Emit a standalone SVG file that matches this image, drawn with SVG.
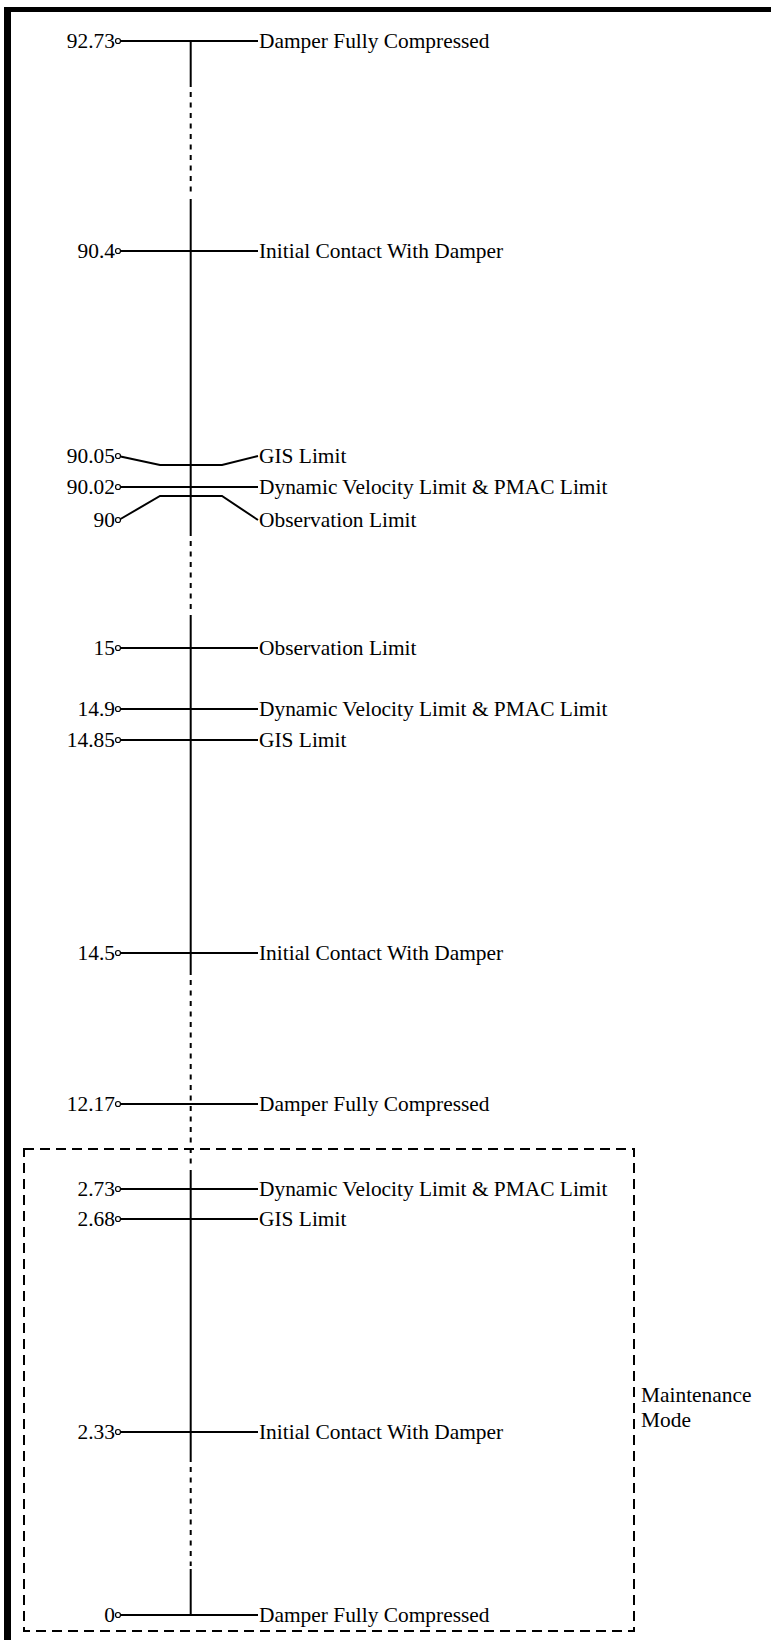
<svg xmlns="http://www.w3.org/2000/svg" width="771" height="1640" viewBox="0 0 771 1640">
<style>
.ln{stroke:#000;stroke-width:2;fill:none}
.dot{stroke:#000;stroke-width:2;fill:none;stroke-dasharray:5 5.5}
.pt{fill:#fff;stroke:#000;stroke-width:1.2}
.t{font-family:"Liberation Serif","Times New Roman",serif;font-size:21.4px;fill:#000}
.n{text-anchor:end}
.box{fill:none;stroke:#000;stroke-width:2;stroke-dasharray:10 6}
</style>
<rect x="0" y="0" width="771" height="1640" fill="#fff"/>
<g id="frame">
<rect x="4" y="7" width="7" height="1633" fill="#000"/>
<rect x="4" y="7" width="767" height="5" fill="#000"/>
</g>
<g id="connectors">
<line class="ln" x1="190.7" y1="41" x2="190.7" y2="87"/>
<line class="dot" x1="190.7" y1="92" x2="190.7" y2="196"/>
<line class="ln" x1="190.7" y1="199" x2="190.7" y2="536"/>
<line class="dot" x1="190.7" y1="541" x2="190.7" y2="613"/>
<line class="ln" x1="190.7" y1="615" x2="190.7" y2="975"/>
<line class="dot" x1="190.7" y1="980" x2="190.7" y2="1166"/>
<line class="ln" x1="190.7" y1="1170" x2="190.7" y2="1462"/>
<line class="dot" x1="190.7" y1="1467" x2="190.7" y2="1566"/>
<line class="ln" x1="190.7" y1="1569" x2="190.7" y2="1615"/>
</g>
<g id="n9273">
<line class="ln" x1="120.5" y1="41" x2="258" y2="41"/><circle class="pt" cx="118" cy="41" r="2.5"/>
<text class="t n" x="115" y="48">92.73</text><text class="t" x="259" y="48">Damper Fully Compressed</text>
</g>
<g id="n904">
<line class="ln" x1="120.5" y1="251" x2="258" y2="251"/><circle class="pt" cx="118" cy="251" r="2.5"/>
<text class="t n" x="115" y="258">90.4</text><text class="t" x="259" y="258">Initial Contact With Damper</text>
</g>
<g id="n9005">
<polyline class="ln" points="120.5,456.5 160,465 222,465 258,456"/><circle class="pt" cx="118" cy="456" r="2.5"/>
<text class="t n" x="115" y="463">90.05</text><text class="t" x="259" y="463">GIS Limit</text>
</g>
<g id="n9002">
<line class="ln" x1="120.5" y1="487" x2="258" y2="487"/><circle class="pt" cx="118" cy="487" r="2.5"/>
<text class="t n" x="115" y="494">90.02</text><text class="t" x="259" y="494">Dynamic Velocity Limit &amp; PMAC Limit</text>
</g>
<g id="n90">
<polyline class="ln" points="120.5,519 160,496 222,496 258,520"/><circle class="pt" cx="118" cy="520" r="2.5"/>
<text class="t n" x="115" y="527">90</text><text class="t" x="259" y="527">Observation Limit</text>
</g>
<g id="n15">
<line class="ln" x1="120.5" y1="648" x2="258" y2="648"/><circle class="pt" cx="118" cy="648" r="2.5"/>
<text class="t n" x="115" y="655">15</text><text class="t" x="259" y="655">Observation Limit</text>
</g>
<g id="n149">
<line class="ln" x1="120.5" y1="709" x2="258" y2="709"/><circle class="pt" cx="118" cy="709" r="2.5"/>
<text class="t n" x="115" y="716">14.9</text><text class="t" x="259" y="716">Dynamic Velocity Limit &amp; PMAC Limit</text>
</g>
<g id="n1485">
<line class="ln" x1="120.5" y1="740" x2="258" y2="740"/><circle class="pt" cx="118" cy="740" r="2.5"/>
<text class="t n" x="115" y="747">14.85</text><text class="t" x="259" y="747">GIS Limit</text>
</g>
<g id="n145">
<line class="ln" x1="120.5" y1="953" x2="258" y2="953"/><circle class="pt" cx="118" cy="953" r="2.5"/>
<text class="t n" x="115" y="960">14.5</text><text class="t" x="259" y="960">Initial Contact With Damper</text>
</g>
<g id="n1217">
<line class="ln" x1="120.5" y1="1104" x2="258" y2="1104"/><circle class="pt" cx="118" cy="1104" r="2.5"/>
<text class="t n" x="115" y="1111">12.17</text><text class="t" x="259" y="1111">Damper Fully Compressed</text>
</g>
<g id="maintenance">
<rect class="box" x="24" y="1149" width="610" height="482"/>
<text class="t" x="641" y="1402">Maintenance</text>
<text class="t" x="641" y="1427">Mode</text>
</g>
<g id="n273">
<line class="ln" x1="120.5" y1="1189" x2="258" y2="1189"/><circle class="pt" cx="118" cy="1189" r="2.5"/>
<text class="t n" x="115" y="1196">2.73</text><text class="t" x="259" y="1196">Dynamic Velocity Limit &amp; PMAC Limit</text>
</g>
<g id="n268">
<line class="ln" x1="120.5" y1="1219" x2="258" y2="1219"/><circle class="pt" cx="118" cy="1219" r="2.5"/>
<text class="t n" x="115" y="1226">2.68</text><text class="t" x="259" y="1226">GIS Limit</text>
</g>
<g id="n233">
<line class="ln" x1="120.5" y1="1432" x2="258" y2="1432"/><circle class="pt" cx="118" cy="1432" r="2.5"/>
<text class="t n" x="115" y="1439">2.33</text><text class="t" x="259" y="1439">Initial Contact With Damper</text>
</g>
<g id="n0">
<line class="ln" x1="120.5" y1="1615" x2="258" y2="1615"/><circle class="pt" cx="118" cy="1615" r="2.5"/>
<text class="t n" x="115" y="1622">0</text><text class="t" x="259" y="1622">Damper Fully Compressed</text>
</g>
</svg>
